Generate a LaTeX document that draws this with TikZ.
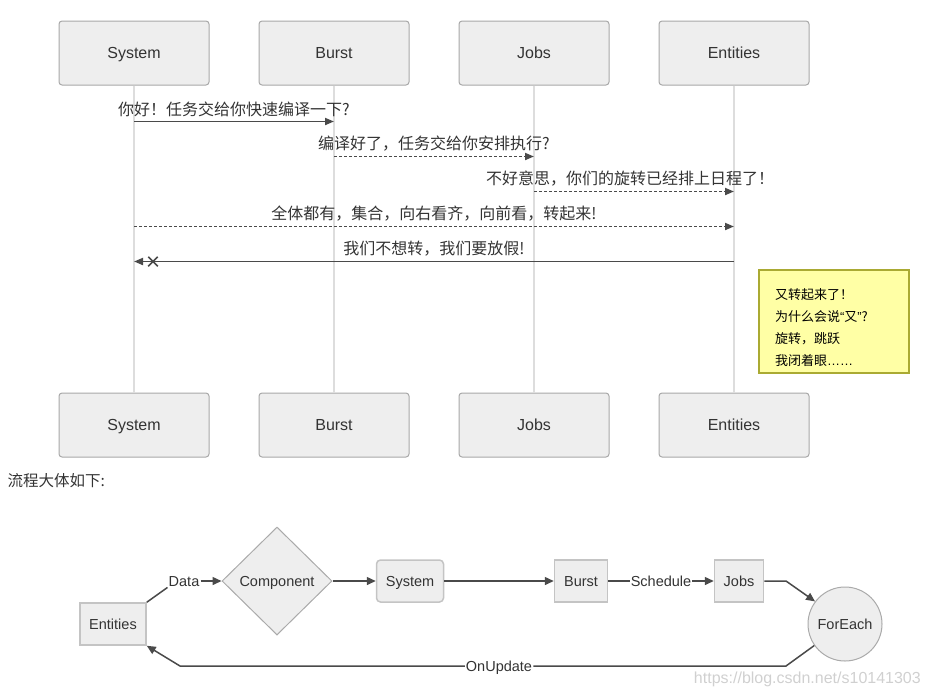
\documentclass[tikz,border=0pt]{standalone}
\usepackage{fontspec}
\setmainfont{Liberation Sans}
\newfontfamily\cjk{Noto Sans CJK SC}
\newfontfamily\latin{Liberation Sans}
\usepackage{tikz}
\usetikzlibrary{calc}
\usetikzlibrary{shapes.misc}
\usetikzlibrary{shapes.geometric}
\usetikzlibrary{arrows.meta}

\definecolor{boxfill}{HTML}{EEEEEE}
\definecolor{textcol}{HTML}{333333}
\definecolor{actorline}{HTML}{A8A8A8}
\definecolor{lifecol}{HTML}{DDDDDD}
\definecolor{msgcol}{HTML}{4A4A4A}
\definecolor{flowline}{HTML}{C4C4C4}
\definecolor{diamline}{HTML}{AAAAAA}
\definecolor{notefill}{HTML}{FFFFA5}
\definecolor{notebd}{HTML}{AAAA33}
\definecolor{wmcol}{HTML}{D0D0D0}

\begin{document}
\begin{tikzpicture}[x=1pt,y=-1pt,
    actor/.style={draw=actorline, fill=boxfill, rounded corners=3pt, line width=1pt,
        minimum width=150pt, minimum height=64pt, text=textcol,
        text height=11.5pt, text depth=0pt,
        font=\fontsize{16}{19}\selectfont},
    life/.style={draw=lifecol, line width=2pt},
    msg/.style={draw=msgcol, line width=1.8pt, -{Triangle[length=9pt,width=7pt]}},
    reply/.style={msg, dash pattern=on 2.5pt off 2.5pt},
    msglbl/.style={midway, above=4pt, inner sep=0pt, text=textcol,
        font=\cjk\fontsize{16}{19}\selectfont},
    notebox/.style={draw=notebd, fill=notefill, line width=1.5pt,
        minimum width=150pt, minimum height=103pt},
    notetext/.style={text width=118pt, align=left, inner sep=0pt,
        text=black, font=\cjk\fontsize{13}{22}\selectfont},
    fbox/.style={draw=flowline, fill=boxfill, line width=1.5pt, minimum height=42pt,
        inner xsep=2pt, text height=10.5pt, text depth=0pt, text=textcol,
        font=\fontsize{14.5}{17}\selectfont},
    fdiam/.style={diamond, draw=diamline, fill=boxfill, line width=1pt, aspect=1,
        minimum width=110pt, minimum height=108pt, inner sep=1pt, text=textcol,
        text height=10.5pt, text depth=0pt,
        font=\fontsize{14.5}{17}\selectfont},
    fcirc/.style={circle, draw=diamline, fill=boxfill, line width=1pt,
        minimum size=74pt, inner sep=0pt, text=textcol,
        text height=10.5pt, text depth=0pt,
        font=\fontsize{14.5}{17}\selectfont},
    flbl/.style={inner sep=1pt, text=textcol, text height=10.5pt, text depth=0pt,
        font=\fontsize{14.5}{17}\selectfont},
    fline/.style={draw=msgcol, line width=1.5pt},
    flow/.style={fline, -{Triangle[length=9pt,width=8pt]}}]

    \useasboundingbox (0,0) rectangle (931,697);

    % actors and lifelines
    \foreach \name/\lbl/\x in {sys/System/134, bur/Burst/334, job/Jobs/534, ent/Entities/734} {
        \node[actor] (\name T) at (\x,53) {\lbl};
        \node[actor] (\name B) at (\x,425) {\lbl};
        \draw[life] (\name T) -- (\name B);
    }

    % messages
    \draw[msg] ($(sysT.south)+(0,36)$) -- node[msglbl]{你好！任务交给你快速编译一下?} ($(burT.south)+(0,36)$);
    \draw[reply] ($(burT.south)+(0,71)$) -- node[msglbl]{编译好了，任务交给你安排执行?} ($(jobT.south)+(0,71)$);
    \draw[reply] ($(jobT.south)+(0,106)$) -- node[msglbl, xshift=-4pt]{不好意思，你们的旋转已经排上日程了！} ($(entT.south)+(0,106)$);
    \draw[reply] ($(sysT.south)+(0,141)$) -- node[msglbl]{全体都有，集合，向右看齐，向前看，转起来!} ($(entT.south)+(0,141)$);
    \draw[msg] ($(entT.south)+(0,176)$) -- node[msglbl]{我们不想转，我们要放假!} ($(sysT.south)+(0,176)$);
    \node[cross out, draw=msgcol, line width=1.5pt, minimum size=8pt, inner sep=0pt] (lost) at ($(sysT.south)+(19,176)$) {};

    % note
    \node[notebox] (memo) at (834,321.5) {};
    \node[notetext] (memoText) at ($(memo.center)+(0,6)$) {又转起来了！\\为什么会说{\latin “}又{\latin ”}?\\旋转，跳跃\\我闭着眼{\latin ……}};

    % caption
    \node[anchor=west, text=textcol, font=\cjk\fontsize{15.5}{18}\selectfont] (title) at (4,481) {流程大体如下:};

    % flow chart
    \node[fbox, minimum width=66pt] (fEnt) at (113,624) {Entities};
    \node[fdiam] (fComp) at (277,581) {Component};
    \node[fbox, rounded corners=4pt, minimum width=67pt] (fSys) at (410,581) {System};
    \node[fbox, minimum width=53pt] (fBur) at (581,581) {Burst};
    \node[fbox, minimum width=49pt] (fJob) at (739,581) {Jobs};
    \node[fcirc] (fEach) at (845,624) {ForEach};

    \node[flbl] (lData) at (184,581) {Data};
    \node[flbl] (lSched) at (661,581) {Schedule};
    \node[flbl] (lUpd) at (499,666) {OnUpdate};

    \draw[fline] (fEnt.north east) -- (lData.south west);
    \draw[flow] (lData) -- (fComp);
    \draw[flow] (fComp) -- (fSys);
    \draw[flow] (fSys) -- (fBur);
    \draw[fline] (fBur) -- (lSched);
    \draw[flow] (lSched) -- (fJob);
    \draw[flow] (fJob.east) -- (786,581) -- (fEach.143);
    \draw[fline] (fEach.215) -- (786,666) -- (lUpd);
    \draw[flow] (lUpd) -- (180,666) -- (fEnt.south east);

    % watermark
    \node[anchor=east, text=wmcol, inner sep=0pt, font=\fontsize{16}{19}\selectfont] (wm) at (921,679) {https://blog.csdn.net/s10141303};

\end{tikzpicture}
\end{document}
